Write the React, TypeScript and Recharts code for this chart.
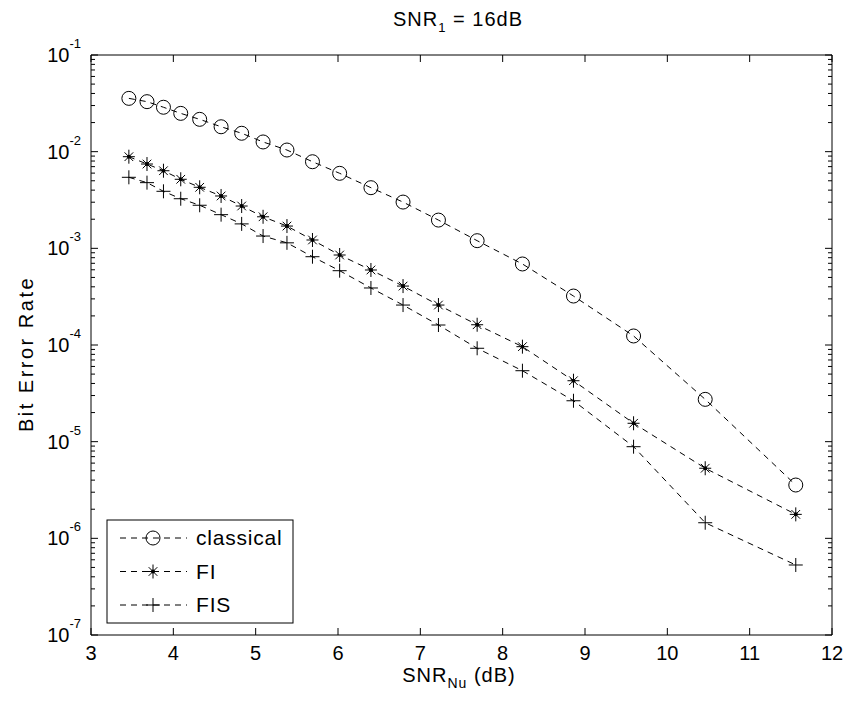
import React from 'react';
import { LineChart, Line, XAxis, YAxis } from 'recharts';

// SNR_Nu (dB) at each simulated point
const snrNu = [3.46, 3.68, 3.88, 4.09, 4.32, 4.58, 4.83, 5.09, 5.38, 5.69, 6.02, 6.4, 6.79, 7.22, 7.69, 8.24, 8.86, 9.59, 10.46, 11.56];

const classical = [3.56e-2, 3.29e-2, 2.88e-2, 2.49e-2, 2.16e-2, 1.81e-2, 1.55e-2, 1.26e-2, 1.04e-2, 7.87e-3, 5.97e-3, 4.24e-3, 3.01e-3, 1.96e-3, 1.2e-3, 6.89e-4, 3.21e-4, 1.24e-4, 2.74e-5, 3.56e-6];
const fi = [8.87e-3, 7.45e-3, 6.35e-3, 5.18e-3, 4.28e-3, 3.48e-3, 2.74e-3, 2.12e-3, 1.7e-3, 1.22e-3, 8.53e-4, 5.97e-4, 4.07e-4, 2.59e-4, 1.62e-4, 9.61e-5, 4.27e-5, 1.55e-5, 5.31e-6, 1.77e-6];
const fis = [5.43e-3, 4.78e-3, 3.89e-3, 3.26e-3, 2.79e-3, 2.23e-3, 1.79e-3, 1.34e-3, 1.14e-3, 8.19e-4, 5.87e-4, 3.89e-4, 2.59e-4, 1.61e-4, 9.25e-5, 5.42e-5, 2.65e-5, 8.87e-6, 1.45e-6, 5.3e-7];

const xTicks = [3, 4, 5, 6, 7, 8, 9, 10, 11, 12];
const decades = [1e-7, 1e-6, 1e-5, 1e-4, 1e-3, 1e-2, 1e-1];

const data = snrNu.map((x, i) => ({ x, classical: classical[i], fi: fi[i], fis: fis[i] }));

// major decades plus 2..9 minor ticks in between
const yTicks: number[] = [];
decades.forEach((d, i) => {
  if (i === decades.length - 1) {
    yTicks.push(d);
    return;
  }
  for (let m = 1; m <= 9; m++) yTicks.push(m === 1 ? d : d * m);
});

const FONT = '"Liberation Sans", Arial, Helvetica, sans-serif';
const INK = '#000';
const DASH = '6 5';

const isMajor = (v: number) => decades.includes(v);

const LeftTick = ({ x, y, payload }: any) => {
  const v = payload.value;
  const major = isMajor(v);
  return (
    <g>
      <line x1={x} x2={x + (major ? 7 : 4)} y1={y} y2={y} stroke={INK} strokeWidth={1} />
      {major && (
        <text x={x - 10} y={y + 7} textAnchor="end" fontSize={20} fill={INK} fontFamily={FONT}>
          10
          <tspan dy={-14} fontSize={13}>
            {Math.round(Math.log10(v))}
          </tspan>
        </text>
      )}
    </g>
  );
};

const RightTick = ({ x, y, payload }: any) => {
  const major = isMajor(payload.value);
  return <line x1={x} x2={x - (major ? 7 : 4)} y1={y} y2={y} stroke={INK} strokeWidth={1} />;
};

const BottomTick = ({ x, y, payload }: any) => (
  <g>
    <line x1={x} x2={x} y1={y} y2={y - 7} stroke={INK} strokeWidth={1} />
    <text x={x} y={y + 25} textAnchor="middle" fontSize={20} fill={INK} fontFamily={FONT}>
      {payload.value}
    </text>
  </g>
);

const TopTick = ({ x, y }: any) => <line x1={x} x2={x} y1={y} y2={y + 7} stroke={INK} strokeWidth={1} />;

const Circle = ({ cx, cy }: any) => <circle cx={cx} cy={cy} r={7} fill="none" stroke={INK} strokeWidth={1} />;

const Star = ({ cx, cy }: any) => {
  const r = 6;
  const d = r * 0.72;
  return (
    <g stroke={INK} strokeWidth={1}>
      <line x1={cx} x2={cx} y1={cy - r - 1} y2={cy + r + 1} />
      <line x1={cx - r} x2={cx + r} y1={cy} y2={cy} />
      <line x1={cx - d} x2={cx + d} y1={cy - d} y2={cy + d} />
      <line x1={cx - d} x2={cx + d} y1={cy + d} y2={cy - d} />
      <circle cx={cx} cy={cy} r={2} fill={INK} stroke="none" />
    </g>
  );
};

const Plus = ({ cx, cy }: any) => (
  <g stroke={INK} strokeWidth={1}>
    <line x1={cx} x2={cx} y1={cy - 7} y2={cy + 7} />
    <line x1={cx - 7} x2={cx + 7} y1={cy} y2={cy} />
  </g>
);

const legendRows = [
  { name: 'classical', Mark: Circle },
  { name: 'FI', Mark: Star },
  { name: 'FIS', Mark: Plus },
];

const App: React.FC = () => {
  return (
    <div style={{ position: 'absolute', left: 0, top: 0, width: 848, height: 703, background: '#fff' }}>
      <LineChart width={848} height={703} data={data} margin={{ top: 54, right: 15, bottom: 0, left: 0 }}>
        <XAxis
          type="number"
          dataKey="x"
          domain={[3, 12]}
          ticks={xTicks}
          interval={0}
          height={68}
          tickSize={0}
          tickMargin={0}
          tickLine={false}
          axisLine={{ stroke: INK }}
          tick={(p: any) => <BottomTick {...p} />}
        />
        <XAxis
          xAxisId="t"
          orientation="top"
          type="number"
          dataKey="x"
          domain={[3, 12]}
          ticks={xTicks}
          interval={0}
          height={1}
          tickSize={0}
          tickMargin={0}
          tickLine={false}
          axisLine={{ stroke: INK }}
          tick={(p: any) => <TopTick {...p} />}
        />
        <YAxis
          scale="log"
          domain={[1e-7, 1e-1]}
          allowDataOverflow
          ticks={yTicks}
          interval={0}
          width={91}
          tickSize={0}
          tickMargin={0}
          tickLine={false}
          axisLine={{ stroke: INK }}
          tick={(p: any) => <LeftTick {...p} />}
        />
        <YAxis
          yAxisId="r"
          orientation="right"
          scale="log"
          domain={[1e-7, 1e-1]}
          allowDataOverflow
          ticks={yTicks}
          interval={0}
          width={1}
          tickSize={0}
          tickMargin={0}
          tickLine={false}
          axisLine={{ stroke: INK }}
          tick={(p: any) => <RightTick {...p} />}
        />
        <Line
          type="linear"
          dataKey="classical"
          stroke={INK}
          strokeWidth={1}
          strokeDasharray={DASH}
          dot={(p: any) => <Circle key={`c${p.index}`} cx={p.cx} cy={p.cy} />}
          activeDot={false}
          isAnimationActive={false}
        />
        <Line
          type="linear"
          dataKey="fi"
          stroke={INK}
          strokeWidth={1}
          strokeDasharray={DASH}
          dot={(p: any) => <Star key={`s${p.index}`} cx={p.cx} cy={p.cy} />}
          activeDot={false}
          isAnimationActive={false}
        />
        <Line
          type="linear"
          dataKey="fis"
          stroke={INK}
          strokeWidth={1}
          strokeDasharray={DASH}
          dot={(p: any) => <Plus key={`p${p.index}`} cx={p.cx} cy={p.cy} />}
          activeDot={false}
          isAnimationActive={false}
        />
      </LineChart>

      {/* title, axis labels and the in-plot legend box */}
      <svg
        width={848}
        height={703}
        style={{ position: 'absolute', left: 0, top: 0, pointerEvents: 'none' }}
        fontFamily={FONT}
      >
        <text x={458} y={26} textAnchor="middle" fontSize={20} letterSpacing={1} fill={INK}>
          SNR
          <tspan dy={6} fontSize={13}>1</tspan>
          <tspan dy={-6}> = 16dB</tspan>
        </text>
        <text x={459} y={682} textAnchor="middle" fontSize={20} letterSpacing={1} fill={INK}>
          SNR
          <tspan dy={6} fontSize={14}>Nu</tspan>
          <tspan dy={-6}> (dB)</tspan>
        </text>
        <text
          transform="translate(33,354) rotate(-90)"
          textAnchor="middle"
          fontSize={20}
          letterSpacing={2.5}
          fill={INK}
        >
          Bit Error Rate
        </text>

        <rect x={107} y={520} width={186} height={103} fill="#fff" stroke={INK} strokeWidth={1} />
        {legendRows.map(({ name, Mark }, i) => {
          const ly = 538 + i * 33.5;
          return (
            <g key={name}>
              <line x1={120} x2={187} y1={ly} y2={ly} stroke={INK} strokeWidth={1} strokeDasharray={DASH} />
              <Mark cx={153} cy={ly} />
              <text x={196} y={ly + 7} fontSize={21} letterSpacing={0.8} fill={INK}>
                {name}
              </text>
            </g>
          );
        })}
      </svg>
    </div>
  );
};

export default App;
